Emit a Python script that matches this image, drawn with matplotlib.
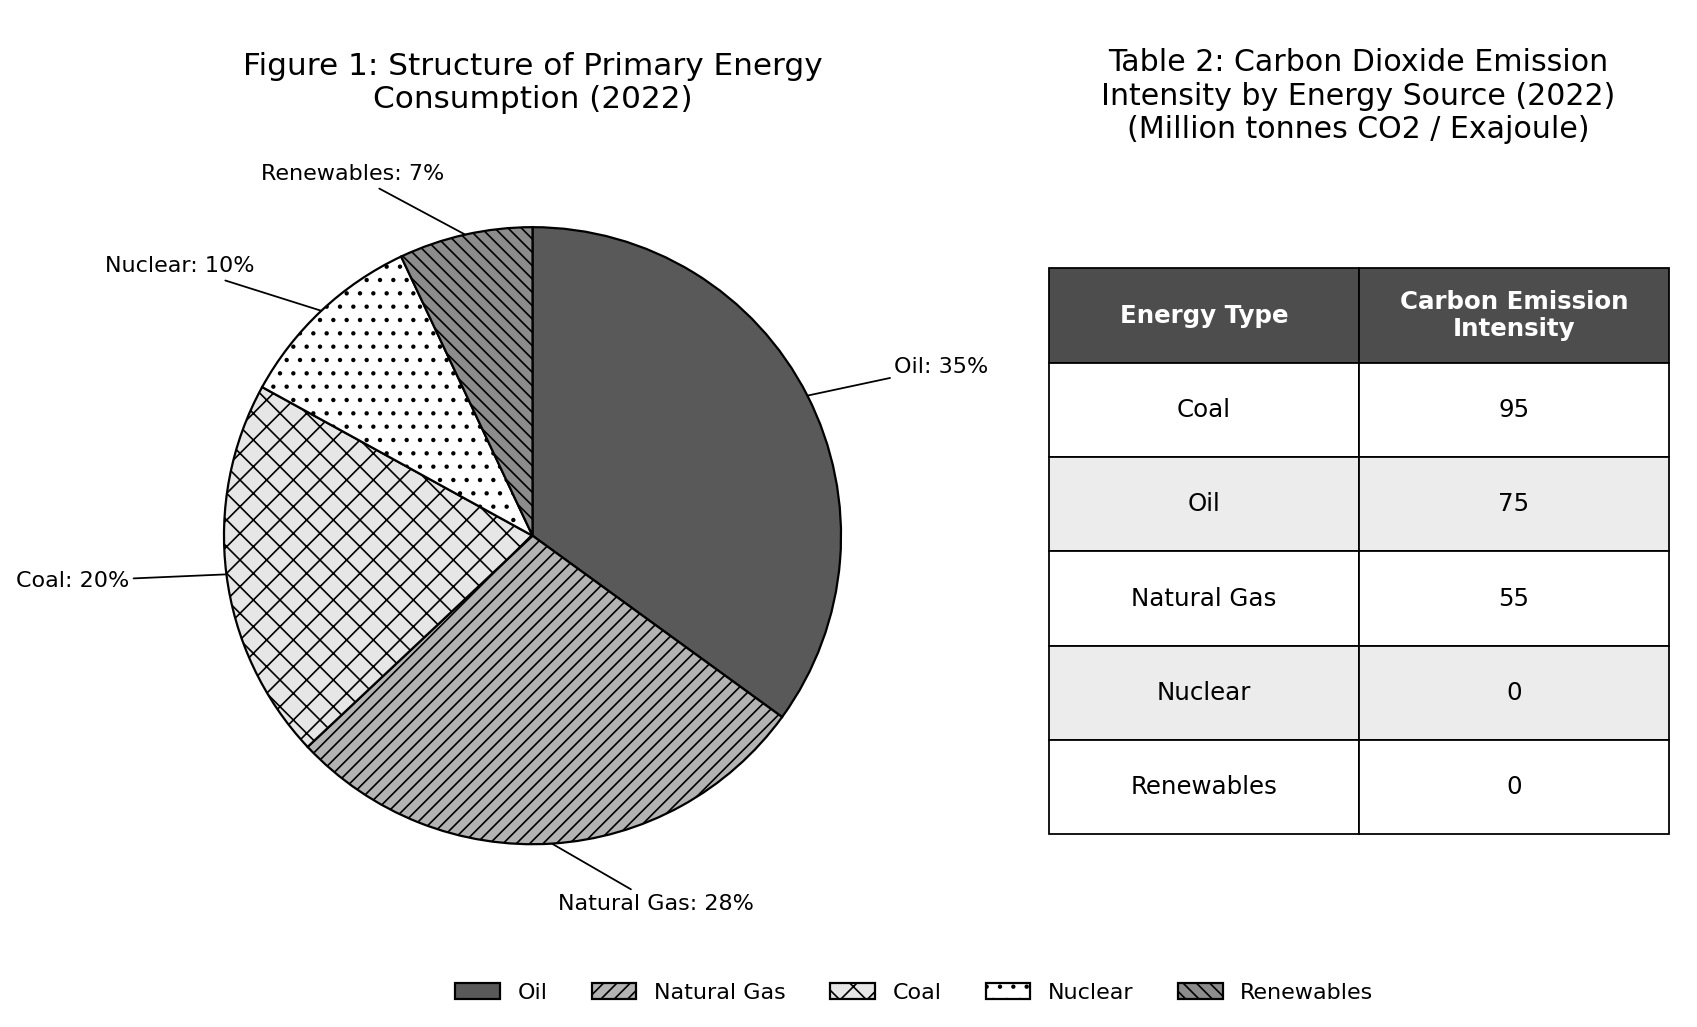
import numpy as np
import matplotlib
matplotlib.use("Agg")
import matplotlib.pyplot as plt
from matplotlib.patches import Patch

# ---------------- data ----------------
energy_types = ["Oil", "Natural Gas", "Coal", "Nuclear", "Renewables"]
shares = [35, 28, 20, 10, 7]

table_types = ["Coal", "Oil", "Natural Gas", "Nuclear", "Renewables"]
intensity = [95, 75, 55, 0, 0]
col_labels = ["Energy Type", "Carbon Emission\nIntensity"]

# ---------------- styles ----------------
colors = ["#595959", "#b3b3b3", "#e6e6e6", "#ffffff", "#8c8c8c"]
hatches = ["", "////", "xx", "..", "\\\\\\\\"]
# label text positions (pie radius units)
label_pos = [(1.326, 0.547), (0.40, -1.193), (-1.491, -0.147),
             (-1.144, 0.874), (-0.584, 1.172)]

plt.rcParams["font.family"] = ["DejaVu Sans"]
plt.rcParams["hatch.linewidth"] = 0.75

DPI = 160
fig = plt.figure(figsize=(1697 / DPI, 1027 / DPI), dpi=DPI)

# ---------------- pie ----------------
ax = fig.add_axes([0.06836, 0.07284, 0.49087, 0.81110])
wedges, _ = ax.pie(shares, colors=colors, startangle=90, counterclock=False,
                   wedgeprops=dict(edgecolor="black", linewidth=1.0))
for w, h in zip(wedges, hatches):
    w.set_hatch(h)
ax.set_xlim(-1.35, 1.35)
ax.set_ylim(-1.35, 1.35)
ax.set_aspect("equal")
ax.axis("off")

for w, name, val, pos in zip(wedges, energy_types, shares, label_pos):
    ang = np.deg2rad((w.theta1 + w.theta2) / 2.0)
    xy = (np.cos(ang), np.sin(ang))
    ax.annotate(f"{name}: {val}%", xy=xy, xytext=pos, ha="center", va="center",
                fontsize=10,
                arrowprops=dict(arrowstyle="-", color="black", lw=0.8,
                                shrinkA=0, shrinkB=0))

fig.text(0.3138, 0.919, "Figure 1: Structure of Primary Energy\nConsumption (2022)",
         ha="center", va="center", fontsize=14)

# ---------------- table ----------------
ax2 = fig.add_axes([0.61803, 0.18744, 0.36541, 0.55122])
ax2.axis("off")
cell_text = [[t, str(v)] for t, v in zip(table_types, intensity)]
tbl = ax2.table(cellText=cell_text, colLabels=col_labels, cellLoc="center",
                bbox=[0, 0, 1, 1])
tbl.auto_set_font_size(False)
for (r, c), cell in tbl.get_celld().items():
    cell.set_edgecolor("black")
    cell.set_linewidth(0.8)
    if r == 0:
        cell.set_facecolor("#4d4d4d")
        cell.get_text().set_color("white")
        cell.get_text().set_fontweight("bold")
        cell.get_text().set_fontsize(11)
    else:
        cell.set_facecolor("#ececec" if r % 2 == 0 else "white")
        cell.get_text().set_fontsize(11)

fig.text(0.8006, 0.9063,
         "Table 2: Carbon Dioxide Emission\nIntensity by Energy Source (2022)\n(Million tonnes CO2 / Exajoule)",
         ha="center", va="center", fontsize=13.5)

# ---------------- legend ----------------
handles = [Patch(facecolor=c, edgecolor="black", hatch=h, label=n)
           for c, h, n in zip(colors, hatches, energy_types)]
fig.legend(handles=handles, loc="center", bbox_to_anchor=(0.5388, 0.0332),
           ncol=5, frameon=False, fontsize=10)

fig.savefig("out.png", dpi=DPI)
